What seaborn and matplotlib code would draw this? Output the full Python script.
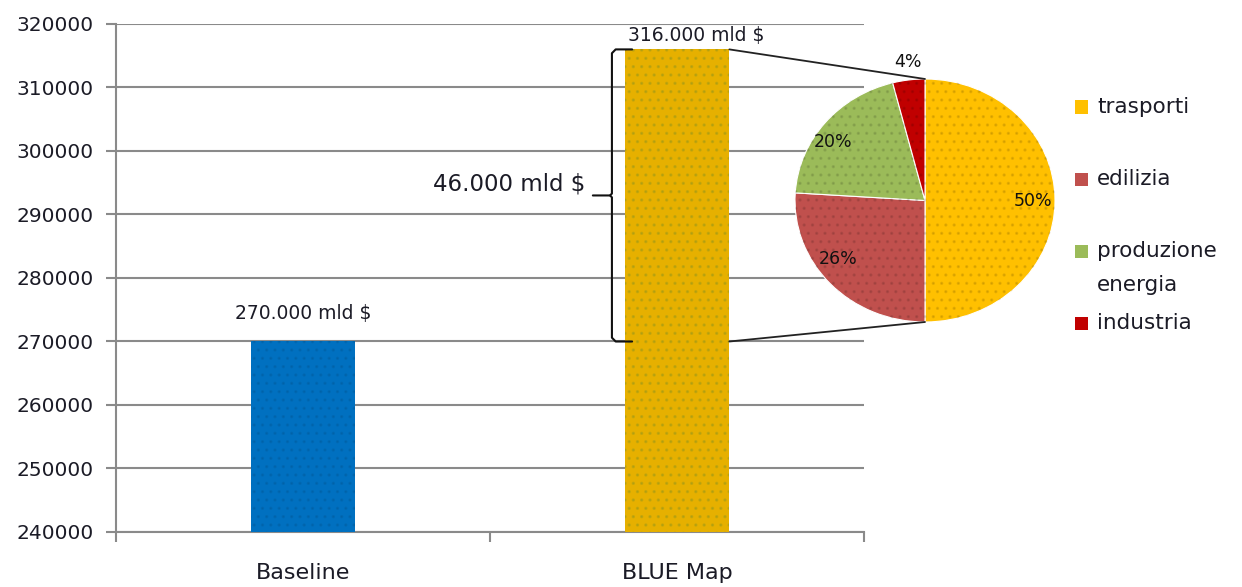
import matplotlib
matplotlib.use("Agg")
import matplotlib.pyplot as plt
from matplotlib.patches import ConnectionPatch, Rectangle
from matplotlib.lines import Line2D
import seaborn as sns
import pandas as pd

# Investment totals (billion $) per scenario
scenarios = ["Baseline", "BLUE Map"]
totals = [270000, 316000]
bar_colors = ["#0070C0", "#E6B000"]

# Breakdown of the additional BLUE Map investment by sector (%)
sectors = ["trasporti", "edilizia", "produzione\nenergia", "industria"]
shares = [50, 26, 20, 4]
sector_colors = ["#FFC000", "#C0504D", "#9BBB59", "#C00000"]

y_ticks = [240000, 250000, 260000, 270000, 280000, 290000, 300000, 310000, 320000]

TEXT = "#1b1b26"
GRID = "#8a8a8a"
W, H = 1242, 587

sns.set_theme(style="white")
plt.rcParams["font.family"] = ["DejaVu Sans"]
plt.rcParams["hatch.linewidth"] = 1.2


def mld(v):
    return f"{v / 1000:.3f} mld $"


fig = plt.figure(figsize=(W / 100, H / 100), dpi=100)
ax = fig.add_axes([116 / W, 55 / H, 748 / W, 508 / H])

df = pd.DataFrame({"scenario": scenarios, "total": totals})
sns.barplot(data=df, x="scenario", y="total", hue="scenario",
            palette=bar_colors, width=0.28, legend=False, ax=ax,
            saturation=1, zorder=3)
# faint dotted texture on the bars
for p, dot in zip(ax.patches, ["#00000010", "#6a8a2a40"]):
    p.set_linewidth(0)
    p.set_edgecolor(dot)
    p.set_hatch("..")

ax.set_ylim(y_ticks[0], y_ticks[-1])
ax.set_xlim(-0.5, 1.5)
ax.set_yticks(y_ticks)
ax.set_yticklabels([str(t) for t in y_ticks])
ax.set_xlabel("")
ax.set_ylabel("")
ax.yaxis.grid(True, color=GRID, linewidth=1.5, zorder=0)
ax.set_axisbelow(True)
for s in ["top", "right"]:
    ax.spines[s].set_visible(False)
for s in ["left", "bottom"]:
    ax.spines[s].set_color(GRID)
    ax.spines[s].set_linewidth(1.5)
ax.tick_params(axis="y", which="major", direction="out", length=7.2,
               width=1.5, color=GRID, labelsize=14.5, labelcolor=TEXT, pad=9,
               left=True)
ax.tick_params(axis="x", which="major", length=0, labelsize=16,
               labelcolor=TEXT, pad=22)
ax.set_xticks([-0.5, 0.5, 1.5], minor=True)
ax.tick_params(axis="x", which="minor", direction="out", length=7.2,
               width=1.5, color=GRID, bottom=True)

# value labels above the bars
ax.annotate(mld(totals[0]), (0, totals[0]), xytext=(0, 20),
            textcoords="offset points", ha="center", va="center",
            fontsize=13.5, color=TEXT)
ax.annotate(mld(totals[1]), (1, totals[1]), xytext=(14, 10),
            textcoords="offset points", ha="center", va="center",
            fontsize=13.5, color=TEXT, annotation_clip=False)

# bracket marking the gap between the two scenarios
top, bot = totals[1], totals[0]
mid = (top + bot) / 2
xv, xh, xt = 0.826, 0.88, 0.775
ax.add_line(Line2D([xh, xv + 0.01, xv, xv, xv - 0.005, xt],
                   [top, top, top - 600, mid + 300, mid, mid],
                   color="#111111", linewidth=1.5, zorder=5, clip_on=False))
ax.add_line(Line2D([xv - 0.005, xv, xv, xv + 0.01, xh],
                   [mid, mid - 300, bot + 600, bot, bot],
                   color="#111111", linewidth=1.5, zorder=5, clip_on=False))
ax.text(0.754, mid + 1800, mld(top - bot), ha="right", va="center",
        fontsize=16.5, color=TEXT)

# pie of the additional investment
rx, ry, cx, cy = 130, 121.5, 925, H - 200.5
axp = fig.add_axes([(cx - rx) / W, (cy - ry) / H, 2 * rx / W, 2 * ry / H])
wedges, _ = axp.pie(shares, colors=sector_colors, startangle=90,
                    counterclock=False, radius=1,
                    wedgeprops=dict(linewidth=0.8, edgecolor="white"))
axp.pie(shares, colors=["none"] * 4, startangle=90, counterclock=False,
        radius=1, wedgeprops=dict(linewidth=0, hatch="..", fill=False,
                                  edgecolor="#00000018"))
axp.set_aspect("auto")
axp.set_xlim(-1, 1)
axp.set_ylim(-1, 1)

label_pos = [(0.83, 0.0), (-0.67, -0.48), (-0.71, 0.48), (-0.13, 1.14)]
for v, (lx, ly) in zip(shares, label_pos):
    axp.text(lx, ly, f"{v}%", ha="center", va="center", fontsize=12.5,
             color="#111111", clip_on=False)

# leader lines from the BLUE Map bar to the pie
bar_right = 1 + 0.14
for yv, py in [(top, 1), (bot, -1)]:
    con = ConnectionPatch(xyA=(bar_right, yv), coordsA=ax.transData,
                          xyB=(0, py), coordsB=axp.transData,
                          color="#222222", linewidth=1.3, zorder=6)
    fig.add_artist(con)

# sector key to the right of the pie
key_top, key_step, line_step, sq = 107, 72, 34, 13
for i, (name, col) in enumerate(zip(sectors, sector_colors)):
    yc = key_top + i * key_step
    fig.add_artist(Rectangle(((1081.5 - sq / 2) / W, 1 - (yc + sq / 2) / H),
                             sq / W, sq / H, transform=fig.transFigure,
                             facecolor=col, edgecolor="none"))
    for k, part in enumerate(name.split("\n")):
        fig.text(1097 / W, 1 - (yc + k * line_step) / H, part,
                 ha="left", va="center", fontsize=15.5, color=TEXT)

fig.savefig("out.png", dpi=100)
